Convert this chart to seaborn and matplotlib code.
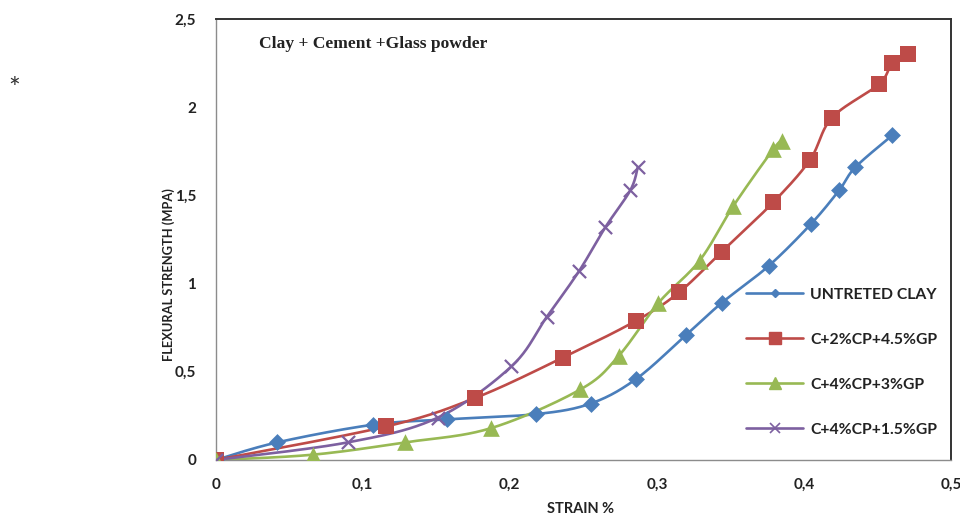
import numpy as np
import pandas as pd
import matplotlib
matplotlib.use("Agg")
import matplotlib.pyplot as plt
from matplotlib.lines import Line2D
import seaborn as sns

# Strain (%) / flexural strength (MPa) readings for each mix
clay_strain = [0, 0.042, 0.107, 0.157, 0.218, 0.255, 0.286, 0.320, 0.344, 0.376, 0.405, 0.424, 0.435, 0.460]
clay_stress = [0, 0.10, 0.20, 0.23, 0.26, 0.32, 0.46, 0.71, 0.89, 1.10, 1.34, 1.53, 1.66, 1.84]

mix1_strain = [0, 0.116, 0.176, 0.236, 0.286, 0.315, 0.344, 0.379, 0.404, 0.419, 0.451, 0.460, 0.471]
mix1_stress = [0, 0.19, 0.35, 0.58, 0.79, 0.95, 1.18, 1.46, 1.70, 1.94, 2.13, 2.25, 2.30]

mix2_strain = [0, 0.066, 0.129, 0.187, 0.248, 0.274, 0.301, 0.329, 0.352, 0.379, 0.385]
mix2_stress = [0, 0.03, 0.10, 0.18, 0.40, 0.59, 0.89, 1.13, 1.44, 1.76, 1.81]

mix3_strain = [0, 0.090, 0.151, 0.201, 0.225, 0.247, 0.265, 0.282, 0.287]
mix3_stress = [0, 0.10, 0.24, 0.53, 0.81, 1.07, 1.32, 1.53, 1.66]

labels = ["UNTRETED CLAY", "C+2%CP+4.5%GP", "C+4%CP+3%GP", "C+4%CP+1.5%GP"]
colors = ["#4A7EBB", "#BE4B48", "#98B954", "#7D60A0"]

x_ticks = [0, 0.1, 0.2, 0.3, 0.4, 0.5]
y_ticks = [0, 0.5, 1, 1.5, 2, 2.5]


def smooth_curve(x, y, steps=24):
    """Catmull-Rom style Bezier smoothing through the measured points."""
    p = np.column_stack([x, y]).astype(float)
    ext = np.vstack([p[0], p, p[-1]])
    out = []
    t = np.linspace(0, 1, steps)[:, None]
    for i in range(1, len(ext) - 2):
        p0, p1, p2, p3 = ext[i - 1], ext[i], ext[i + 1], ext[i + 2]
        c1 = p1 + (p2 - p0) / 6.0
        c2 = p2 - (p3 - p1) / 6.0
        seg = ((1 - t) ** 3) * p1 + 3 * ((1 - t) ** 2) * t * c1 + 3 * (1 - t) * t ** 2 * c2 + t ** 3 * p2
        out.append(seg if i == 1 else seg[1:])
    arr = np.vstack(out)
    return arr[:, 0], arr[:, 1]


sns.set_style("white")
plt.rcParams["font.family"] = ["Lato", "DejaVu Sans"]

fig = plt.figure(figsize=(9.6, 5.18), dpi=100)
ax = fig.add_axes([0.2247, 0.112, 0.766, 0.8515])

series = [
    (clay_strain, clay_stress, "D", 8.6, 0),
    (mix1_strain, mix1_stress, "s", 11.0, 0),
    (mix2_strain, mix2_stress, "^", 12.0, 0),
    (mix3_strain, mix3_stress, "x", 9.5, 1.6),
]

for (xs, ys, mk, ms, mew), lab, col in zip(series, labels, colors):
    sx, sy = smooth_curve(xs, ys)
    curve = pd.DataFrame({"strain": sx, "stress": sy})
    sns.lineplot(data=curve, x="strain", y="stress", sort=False, estimator=None,
                 color=col, linewidth=1.9, ax=ax, legend=False, zorder=2)
    pts = pd.DataFrame({"strain": xs, "stress": ys})
    if mk == "x":
        sns.scatterplot(data=pts, x="strain", y="stress", marker=mk, s=ms ** 2,
                        color=col, linewidth=mew, ax=ax, legend=False, zorder=3)
    else:
        sns.scatterplot(data=pts, x="strain", y="stress", marker=mk, s=ms ** 2,
                        color=col, edgecolor=col, linewidth=0, ax=ax, legend=False, zorder=3)

ax.set_xlim(0, 0.5)
ax.set_ylim(0, 2.5)
ax.set_xticks(x_ticks)
ax.set_yticks(y_ticks)
fmt = lambda v: "0" if v == 0 else f"{v:g}".replace(".", ",")
ax.set_xticklabels([fmt(v) for v in x_ticks], fontsize=11, fontweight="bold", color="#222222")
ax.set_yticklabels([fmt(v) for v in y_ticks], fontsize=11, fontweight="bold", color="#222222")
ax.tick_params(axis="both", direction="in", length=6, width=1, color="#888888", pad=14)
ax.tick_params(axis="x", pad=13)

for side in ["left", "bottom"]:
    ax.spines[side].set_color("#8C8C8C")
    ax.spines[side].set_linewidth(1.0)
for side in ["top", "right"]:
    ax.spines[side].set_color("#333333")
    ax.spines[side].set_linewidth(1.4)

ax.set_xlabel("STRAIN %", fontsize=10.5, fontweight="bold", color="#222222")
ax.xaxis.set_label_coords(0.496, -0.096)
ax.set_ylabel("FLEXURAL STRENGTH (MPA)", fontsize=9.3, fontweight="bold", color="#222222")
ax.yaxis.set_label_coords(-0.055, 0.42)

ax.text(0.059, 0.943, "Clay + Cement +Glass powder", transform=ax.transAxes,
        fontsize=12.6, fontweight="bold", family="Liberation Serif", color="#222222",
        va="center", ha="left")

fig.text(0.015, 0.826, "*", fontsize=20, color="#333333", ha="center", va="center")

handles = [
    Line2D([], [], color=colors[0], lw=1.9, marker="D", markersize=4.5),
    Line2D([], [], color=colors[1], lw=1.9, marker="s", markersize=8),
    Line2D([], [], color=colors[2], lw=1.9, marker="^", markersize=8),
    Line2D([], [], color=colors[3], lw=1.9, marker="x", markersize=7, markeredgewidth=1.2),
]
ax.legend(handles, labels, loc="upper left", bbox_to_anchor=(0.711, 0.408),
          frameon=False, borderpad=0, handlelength=3.6, handletextpad=0.45,
          labelspacing=1.97, prop={"family": "Lato", "size": 11.3, "weight": "bold"},
          labelcolor="#222222")

fig.savefig("out.png", dpi=100)
